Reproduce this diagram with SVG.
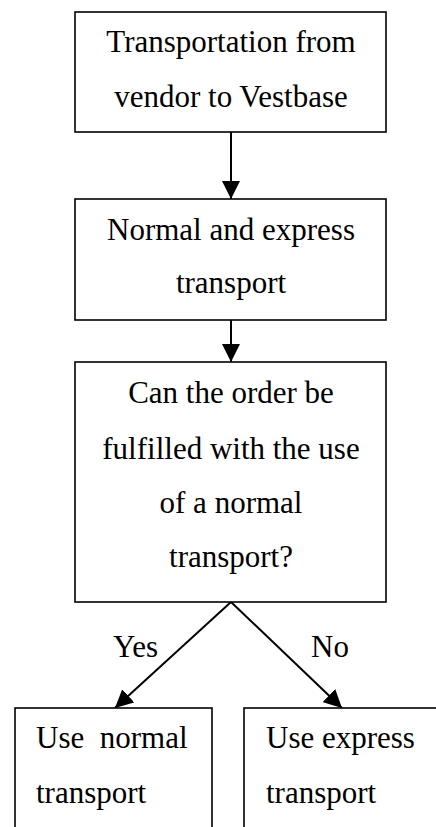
<svg xmlns="http://www.w3.org/2000/svg" width="436" height="827" viewBox="0 0 436 827">
<style>
.box{fill:#fff;stroke:#000;stroke-width:1.6}
.t{font-family:"Liberation Serif","Times New Roman",serif;font-size:31px;fill:#000}
.c{text-anchor:middle}
.ln{stroke:#000;stroke-width:2;fill:none}
</style>
<defs>
<marker id="ah" markerUnits="userSpaceOnUse" markerWidth="18" markerHeight="18" refX="16" refY="8" orient="auto" viewBox="0 0 16 16">
<path d="M0,0 L16,8 L0,16 Z" fill="#000"/>
</marker>
</defs>
<g id="connectors">
<line class="ln" x1="231" y1="132" x2="231" y2="199" marker-end="url(#ah)"/>
<line class="ln" x1="231" y1="320" x2="231" y2="362" marker-end="url(#ah)"/>
<line class="ln" x1="231" y1="602" x2="115" y2="708" marker-end="url(#ah)"/>
<line class="ln" x1="231" y1="602" x2="342" y2="708" marker-end="url(#ah)"/>
<text class="t" x="113" y="657">Yes</text>
<text class="t" x="311" y="657">No</text>
</g>
<g id="n1">
<rect class="box" x="75" y="12" width="311" height="120"/>
<text class="t c" x="231" y="52">Transportation from</text>
<text class="t c" x="231" y="107">vendor to Vestbase</text>
</g>
<g id="n2">
<rect class="box" x="75" y="199" width="311" height="121"/>
<text class="t c" x="231" y="240">Normal and express</text>
<text class="t c" x="231" y="293">transport</text>
</g>
<g id="n3">
<rect class="box" x="75" y="362" width="311" height="240"/>
<text class="t c" x="231" y="403">Can the order be</text>
<text class="t c" x="231" y="459">fulfilled with the use</text>
<text class="t c" x="231" y="513">of a normal</text>
<text class="t c" x="231" y="567">transport?</text>
</g>
<g id="n4">
<rect class="box" x="15" y="708" width="197" height="140"/>
<text class="t" x="36" y="748" xml:space="preserve">Use  normal</text>
<text class="t" x="36" y="803">transport</text>
</g>
<g id="n5">
<rect class="box" x="244" y="708" width="220" height="140"/>
<text class="t" x="266" y="748">Use express</text>
<text class="t" x="266" y="803">transport</text>
</g>
</svg>
